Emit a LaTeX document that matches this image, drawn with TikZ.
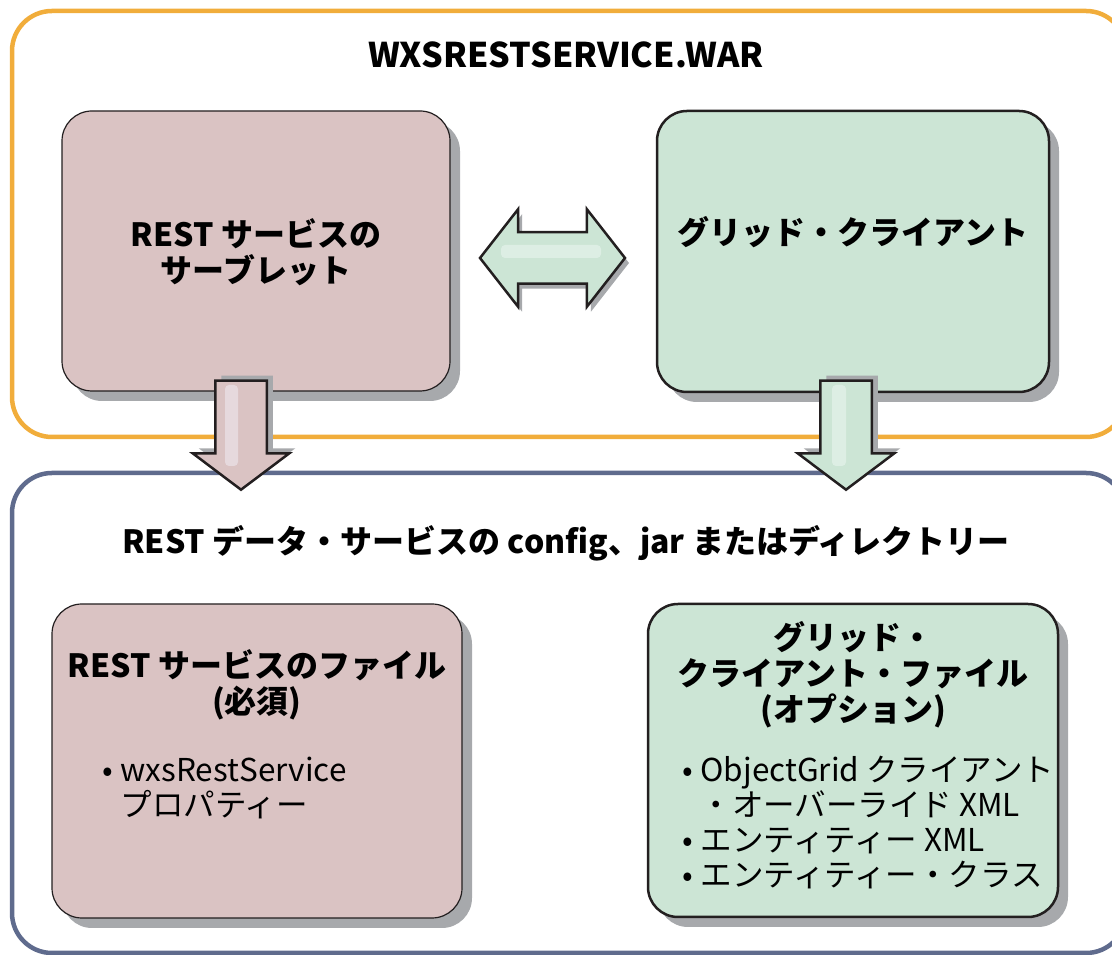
\documentclass[tikz,border=0pt]{standalone}
\usepackage{fontspec}
\setmainfont{Noto Sans CJK JP}
\usetikzlibrary{shapes.arrows,shadows}

\definecolor{warframe}{HTML}{F1AD3B}
\definecolor{dirframe}{HTML}{5F6B8D}
\definecolor{restpink}{HTML}{DAC3C3}
\definecolor{restlight}{HTML}{E6D9DD}
\definecolor{gridgreen}{HTML}{CCE5D5}
\definecolor{gridlight}{HTML}{DDEEE4}
\definecolor{boxshade}{HTML}{A7A9AC}
\definecolor{boxline}{HTML}{231F20}

\tikzset{
	frame/.style={line width=4.5pt, rounded corners=40pt},
	comp/.style={draw=boxline, rounded corners=30pt, inner sep=0pt,
		drop shadow={shadow xshift=10pt, shadow yshift=-10pt, fill=boxshade, opacity=1}},
	blockarrow/.style={draw=boxline, line width=2.5pt, inner sep=24.5pt},
	bigtitle/.style={font=\fontsize{34}{38}\selectfont\bfseries},
	boxtitle/.style={font=\fontsize{32}{36}\selectfont\bfseries, align=center},
	items/.style={font=\fontsize{31.5}{35}\selectfont, align=left, anchor=west}
}
\newcommand{\itm}{\makebox[18pt][l]{•}}

\begin{document}
\begin{tikzpicture}[x=10pt,y=10pt]
	\useasboundingbox (0,0) rectangle (111.2,95.5);
	\clip (0,0) rectangle (111.2,95.5);
	
	% the two containers
	\draw[frame, draw=warframe] (1.2,94.4) rectangle (112.6,51.8);
	\draw[frame, draw=dirframe] (1.2,48.2) rectangle (112.6,0.2);
	
	\node[bigtitle] (war) at (56.6,90.0) {WXSRESTSERVICE.WAR};
	\node[boxtitle] (dir) at (56.6,41.2) {REST データ・サービスの config、jar またはディレクトリー};
	
	% boxes
	\node[comp, line width=1.2pt, fill=restpink, minimum width=388pt, minimum height=280pt] (servlet) at (25.6,70.4) {};
	\node[comp, line width=2.5pt, fill=gridgreen, minimum width=392pt, minimum height=281pt] (client) at (85.3,70.35) {};
	\node[comp, line width=1.2pt, fill=restpink, minimum width=410pt, minimum height=314pt] (restfiles) at (25.7,19.4) {};
	\node[comp, line width=2.5pt, fill=gridgreen, minimum width=410pt, minimum height=313pt] (clientfiles) at (85.3,19.45) {};
	
	\node[boxtitle] (servlettext) at (25.6,70.3) {REST サービスの\\サーブレット};
	\node[boxtitle] (clienttext) at (85.3,72.3) {グリッド・クライアント};
	\node[boxtitle] (resttitle) at (25.7,27.0) {REST サービスのファイル\\(必須)};
	\node[boxtitle] (gridtitle) at (85.3,28.05) {グリッド・\\クライアント・ファイル\\(オプション)};
	
	\node[items] (restlist) at (9.9,16.7) {\itm wxsRestService\\\hphantom{\itm}プロパティー};
	\node[items] (gridlist) at (67.9,13.25) {\itm ObjectGrid クライアント\\\hphantom{\itm}・オーバーライド XML\\\itm エンティティー XML\\\itm エンティティー・クラス};
	
	% arrows
	\node[blockarrow, double arrow, fill=gridgreen, minimum height=145pt,
		double arrow head extend=23pt, double arrow tip angle=104,
		drop shadow={shadow xshift=4pt, shadow yshift=-5pt, fill=boxshade, opacity=1}] (link) at (55.25,69.7) {};
	\fill[gridlight, rounded corners=4pt] (50.1,71.0) rectangle (60.1,69.7);
	
	\node[blockarrow, single arrow, shape border rotate=270, fill=restpink, minimum height=109pt,
		single arrow head extend=22.5pt, single arrow tip angle=106,
		drop shadow={shadow xshift=6pt, shadow yshift=5pt, fill=boxshade, opacity=1}] (deployrest) at (24.1,52.95) {};
	\fill[restlight, rounded corners=4pt] (22.5,57.0) rectangle (23.8,48.9);
	
	\node[blockarrow, single arrow, shape border rotate=270, fill=gridgreen, minimum height=109pt,
		single arrow head extend=22.5pt, single arrow tip angle=106,
		drop shadow={shadow xshift=6pt, shadow yshift=5pt, fill=boxshade, opacity=1}] (deploygrid) at (84.6,52.95) {};
	\fill[gridlight, rounded corners=4pt] (83.2,57.0) rectangle (84.6,48.9);
\end{tikzpicture}
\end{document}
